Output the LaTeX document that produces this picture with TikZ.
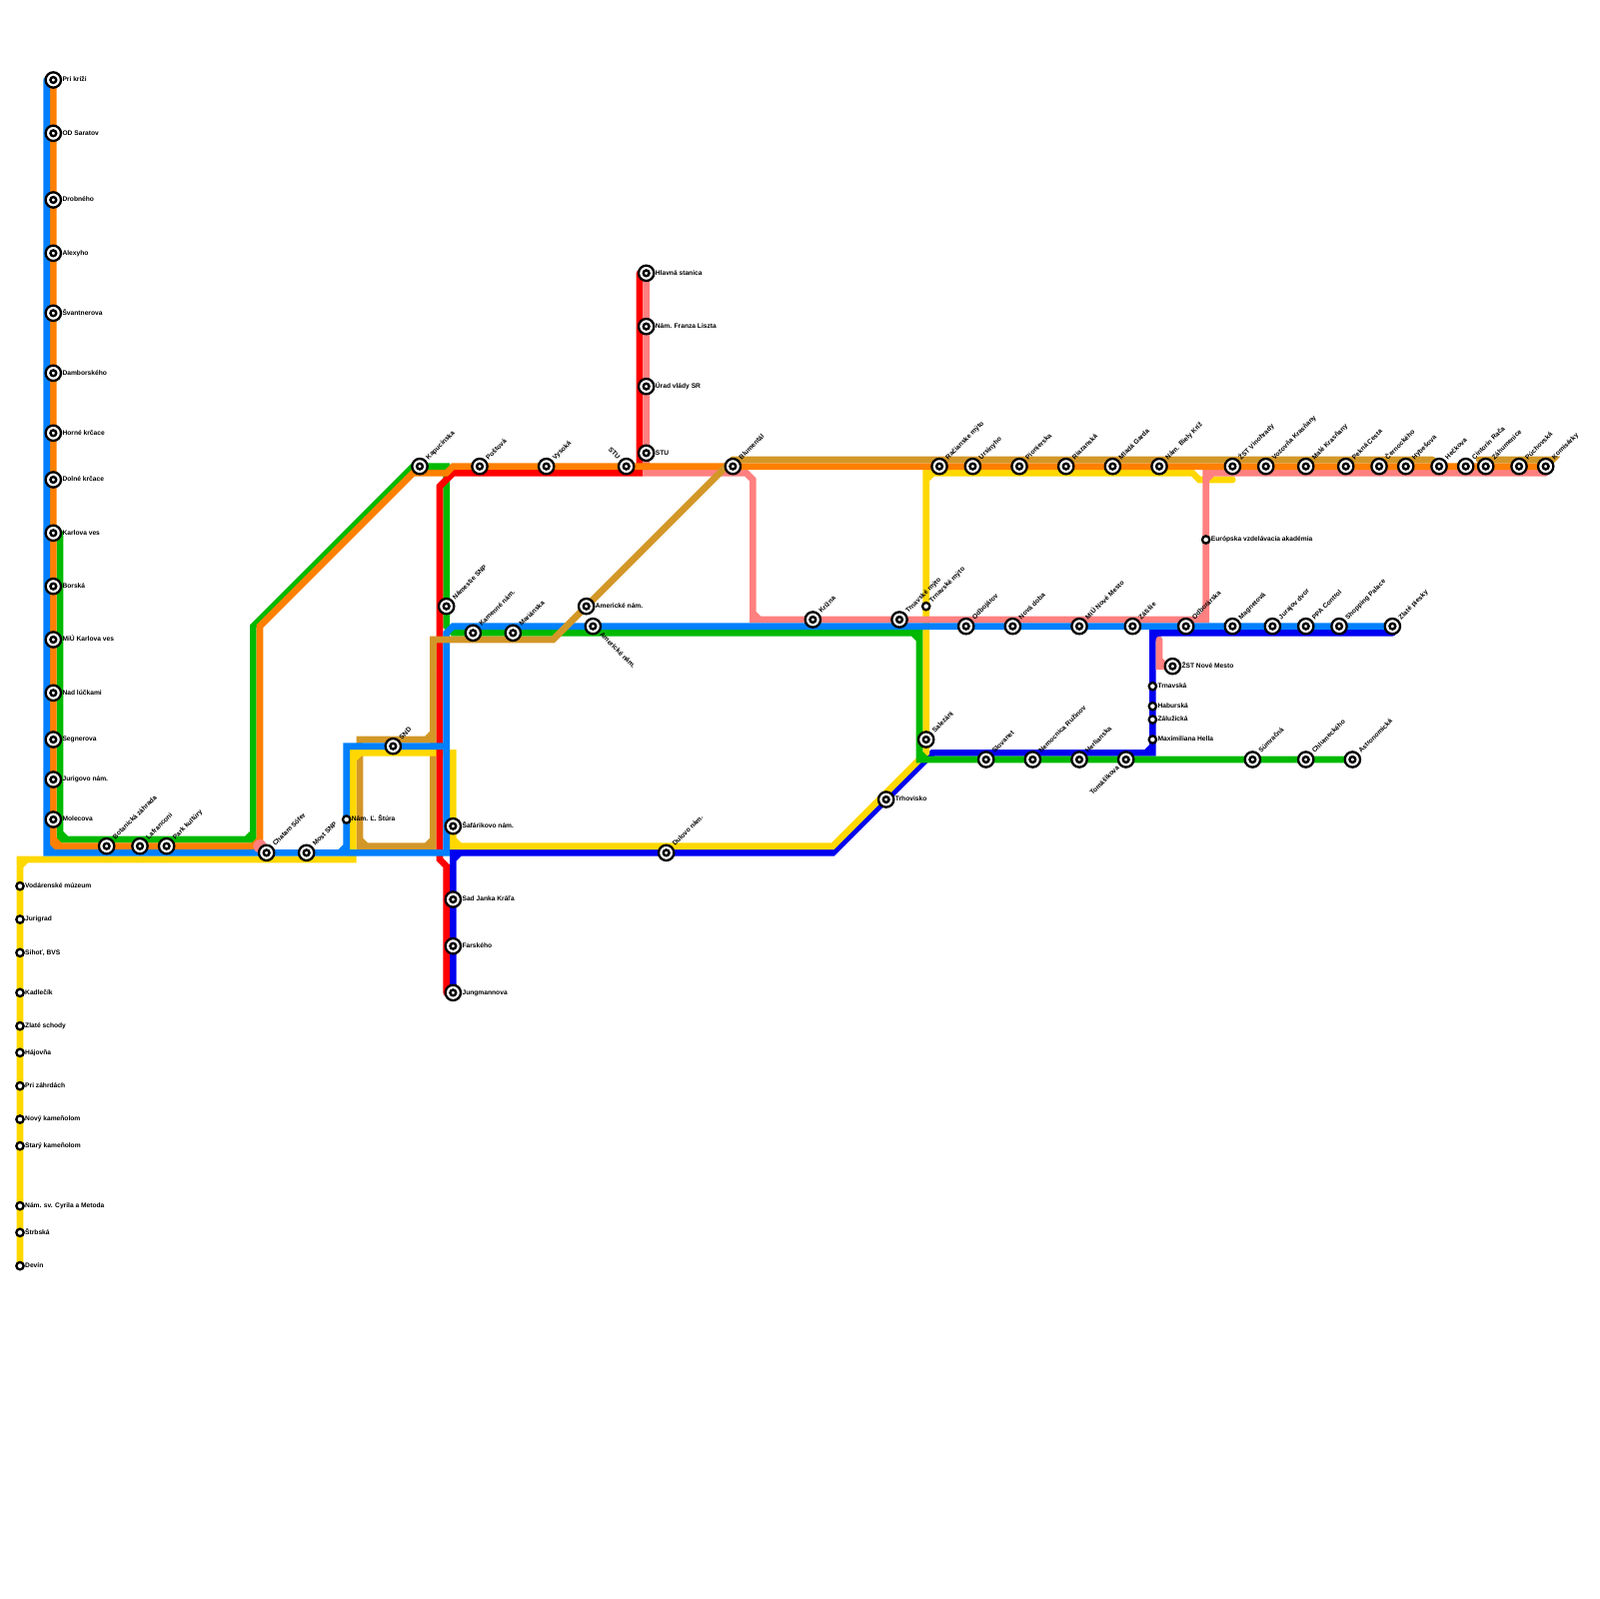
\documentclass[tikz,border=0pt]{standalone}
\usepackage{fontspec}
\setmainfont{Liberation Sans}
\definecolor{ltan}{HTML}{D39728}
\definecolor{lorange}{HTML}{FF8000}
\definecolor{lblue}{HTML}{0080FF}
\definecolor{lnavy}{HTML}{0000F0}
\definecolor{lgreen}{HTML}{00B900}
\definecolor{lred}{HTML}{FF0000}
\definecolor{lpink}{HTML}{FF8080}
\definecolor{lyellow}{HTML}{FFD800}
\tikzset{
  metro/.style={line width=3.3333pt,line cap=round,line join=miter},
  stopname/.style={font=\fontsize{3.33}{4}\selectfont\bfseries,inner sep=0pt,text height=2.4pt,text depth=.7pt},
  rt/.style={stopname,anchor=west},
  up/.style={stopname,rotate=45,anchor=west,xshift=.8pt},
  dn/.style={stopname,rotate=-45,anchor=west,xshift=.8pt},
  upback/.style={stopname,rotate=45,anchor=east,xshift=-.8pt},
  dnback/.style={stopname,rotate=-45,anchor=east,xshift=-.8pt},
  bigstop/.style={circle,draw=black,fill=white,line width=1.15pt,inner sep=0pt,minimum size=7.67pt,label distance=1.9pt,
    path picture={\draw[line width=1.2pt] (path picture bounding box.center) circle (1.45pt);}},
  smallstop/.style={circle,draw=black,fill=white,line width=1.15pt,inner sep=0pt,minimum size=3.67pt,label distance=1.2pt},
}
\begin{document}
\begin{tikzpicture}[x=3.3333pt,y=-3.3333pt]
  \useasboundingbox (0,0) rectangle (240,240);
  % tan loop round SND
  \draw[metro,ltan] (65,96) -- (65,127) -- (54,127) -- (54,111) -- (65,111)
    (64,111) -- (65,110) (54,126) -- (55,127) (64,127) -- (65,126);
  % navy
  \draw[metro,lnavy] (68,149) -- (68,128) -- (125,128) -- (140,113) -- (173,113) -- (173,95) -- (209,95)
    (68,129) -- (69,128) (172,113) -- (173,112) (173,96) -- (174,95);
  % yellow
  \draw[metro,lyellow] (3,190) -- (3,129) -- (53,129) -- (53,113) -- (68,113) -- (68,127) -- (125,127) -- (139,113) -- (139,71) -- (179,71) -- (180,72) -- (185,72)
    (3,130) -- (4,129) (53,114) -- (54,113) (68,126) -- (69,127) (139,72) -- (140,71);
  % green
  \draw[metro,lgreen] (9,80) -- (9,126) -- (38,126) -- (38,94) -- (62,70) -- (67,70) -- (67,94) -- (68,95) -- (138,95) -- (138,114) -- (203,114)
    (9,125) -- (10,126) (37,126) -- (38,125) (137,95) -- (138,96) (138,113) -- (139,114);
  % red
  \draw[metro,lred] (96,41) -- (96,71) -- (68,71) -- (66,73) -- (66,129) -- (67,130) -- (67,149);
  % pink
  \draw[metro,lpink] (97,41) -- (97,71) -- (112,71) -- (113,72) -- (113,93) -- (181,93) -- (181,71) -- (232,71)
    (113,92) -- (114,93) (180,93) -- (181,92) (181,72) -- (182,71);
  \draw[metro,lpink] (174,96) -- (174,100) -- (176,100) (174,99) -- (175,100);
  % orange
  \draw[metro,lorange] (8,12) -- (8,127) -- (39,127) -- (39,94) -- (62,71) -- (67,71) -- (68,70) -- (232,70)
    (8,126) -- (9,127) (38,127) -- (39,126);
  % blue
  \draw[metro,lblue] (7,12) -- (7,128) -- (67,128) -- (67,95) -- (68,94) -- (209,94)
    (52,128) -- (52,112) -- (67,112) (7,127) -- (8,128) (51,128) -- (52,127);
  % tan main
  \draw[metro,ltan] (65,100) -- (65,96) -- (83,96) -- (110,69) -- (215,69);
  \draw[metro,ltan] (222,69) -- (233,69) -- (232,70);
  \fill[lpink] (39,127) circle (1);
  % left column
  \node[bigstop,label={[rt]right:Pri kríži}] (prikrizi) at (8,12) {};
  \node[bigstop,label={[rt]right:OD Saratov}] (saratov) at (8,20) {};
  \node[bigstop,label={[rt]right:Drobného}] (drobneho) at (8,30) {};
  \node[bigstop,label={[rt]right:Alexyho}] (alexyho) at (8,38) {};
  \node[bigstop,label={[rt]right:Švantnerova}] (svantnerova) at (8,47) {};
  \node[bigstop,label={[rt]right:Damborského}] (damborskeho) at (8,56) {};
  \node[bigstop,label={[rt]right:Horné krčace}] (hornekrcace) at (8,65) {};
  \node[bigstop,label={[rt]right:Dolné krčace}] (dolnekrcace) at (8,72) {};
  \node[bigstop,label={[rt]right:Karlova ves}] (karlovaves) at (8,80) {};
  \node[bigstop,label={[rt]right:Borská}] (borska) at (8,88) {};
  \node[bigstop,label={[rt]right:MiÚ Karlova ves}] (miukv) at (8,96) {};
  \node[bigstop,label={[rt]right:Nad lúčkami}] (nadluckami) at (8,104) {};
  \node[bigstop,label={[rt]right:Segnerova}] (segnerova) at (8,111) {};
  \node[bigstop,label={[rt]right:Jurigovo nám.}] (jurigovo) at (8,117) {};
  \node[bigstop,label={[rt]right:Molecova}] (molecova) at (8,123) {};
  % bottom row
  \node[bigstop,label={[up]45:Botanická záhrada}] (botanicka) at (16,127) {};
  \node[bigstop,label={[up]45:Lafranconi}] (lafranconi) at (21,127) {};
  \node[bigstop,label={[up]45:Park kultúry}] (parkkultury) at (25,127) {};
  \node[bigstop,label={[up]45:Chatam Sófer}] (chatam) at (40,128) {};
  \node[bigstop,label={[up]45:Most SNP}] (mostsnp) at (46,128) {};
  % yellow south
  \node[smallstop,label={[rt]right:Vodárenské múzeum}] (vodarenske) at (3,133) {};
  \node[smallstop,label={[rt]right:Jurigrad}] (jurigrad) at (3,138) {};
  \node[smallstop,label={[rt]right:Sihoť, BVS}] (sihot) at (3,143) {};
  \node[smallstop,label={[rt]right:Kadlečík}] (kadlecik) at (3,149) {};
  \node[smallstop,label={[rt]right:Zlaté schody}] (zlateschody) at (3,154) {};
  \node[smallstop,label={[rt]right:Hájovňa}] (hajovna) at (3,158) {};
  \node[smallstop,label={[rt]right:Pri záhrdách}] (prizahradach) at (3,163) {};
  \node[smallstop,label={[rt]right:Nový kameňolom}] (novykam) at (3,168) {};
  \node[smallstop,label={[rt]right:Starý kameňolom}] (starykam) at (3,172) {};
  \node[smallstop,label={[rt]right:Nám. sv. Cyrila a Metoda}] (cyrila) at (3,181) {};
  \node[smallstop,label={[rt]right:Štrbská}] (strbska) at (3,185) {};
  \node[smallstop,label={[rt]right:Devín}] (devin) at (3,190) {};
  % centre
  \node[smallstop,label={[rt]right:Nám. Ľ. Štúra}] (stura) at (52,123) {};
  \node[bigstop,label={[up]45:SND}] (snd) at (59,112) {};
  \node[bigstop,label={[rt]right:Šafárikovo nám.}] (safarikovo) at (68,124) {};
  \node[bigstop,label={[rt]right:Sad Janka Kráľa}] (sadjk) at (68,135) {};
  \node[bigstop,label={[rt]right:Farského}] (farskeho) at (68,142) {};
  \node[bigstop,label={[rt]right:Jungmannova}] (jungmannova) at (68,149) {};
  \node[bigstop,label={[up]45:Dulovo nám.}] (dulovo) at (100,128) {};
  \node[bigstop,label={[rt]right:Trhovisko}] (trhovisko) at (133,120) {};
  \node[bigstop,label={[up]45:Námestie SNP}] (namsnp) at (67,91) {};
  \node[bigstop,label={[up]45:Kamenné nám.}] (kamenne) at (71,95) {};
  \node[bigstop,label={[up]45:Mariánska}] (marianska) at (77,95) {};
  \node[bigstop,label={[rt]right:Americké nám.}] (americke) at (88,91) {};
  \node[bigstop,label={[dn]-45:Americké nám.}] (americketwo) at (89,94) {};
  % north branch
  \node[bigstop,label={[rt]right:Hlavná stanica}] (hlavna) at (97,41) {};
  \node[bigstop,label={[rt]right:Nám. Franza Liszta}] (liszta) at (97,49) {};
  \node[bigstop,label={[rt]right:Úrad vlády SR}] (uradvlady) at (97,58) {};
  \node[bigstop,label={[rt]right:STU}] (stu) at (97,68) {};
  % row 70
  \node[bigstop,label={[up]45:Kapucínska}] (kapucinska) at (63,70) {};
  \node[bigstop,label={[up]45:Poštová}] (postova) at (72,70) {};
  \node[bigstop,label={[up]45:Vysoká}] (vysoka) at (82,70) {};
  \node[bigstop,label={[dnback]135:STU}] (stutwo) at (94,70) {};
  \node[bigstop,label={[up]45:Blumentál}] (blumental) at (110,70) {};
  \node[bigstop,label={[up]45:Račianske mýto}] (racianske) at (141,70) {};
  \node[bigstop,label={[up]45:Ursínyho}] (ursinyho) at (146,70) {};
  \node[bigstop,label={[up]45:Pionierska}] (pionierska) at (153,70) {};
  \node[bigstop,label={[up]45:Riazanská}] (riazanska) at (160,70) {};
  \node[bigstop,label={[up]45:Mladá Garda}] (mladagarda) at (167,70) {};
  \node[bigstop,label={[up]45:Nám. Biely Kríž}] (bielykriz) at (174,70) {};
  \node[bigstop,label={[up]45:ŽST Vinohrady}] (vinohrady) at (185,70) {};
  \node[bigstop,label={[up]45:Vozovňa Krasňany}] (vozovna) at (190,70) {};
  \node[bigstop,label={[up]45:Malé Krasňany}] (malekrasnany) at (196,70) {};
  \node[bigstop,label={[up]45:Pekná Cesta}] (peknacesta) at (202,70) {};
  \node[bigstop,label={[up]45:Černockého}] (cernockeho) at (207,70) {};
  \node[bigstop,label={[up]45:Hybešova}] (hybesova) at (211,70) {};
  \node[bigstop,label={[up]45:Hečkova}] (heckova) at (216,70) {};
  \node[bigstop,label={[up]45:Cintorín Rača}] (cintorin) at (220,70) {};
  \node[bigstop,label={[up]45:Záhumenice}] (zahumenice) at (223,70) {};
  \node[bigstop,label={[up]45:Púchovská}] (puchovska) at (228,70) {};
  \node[bigstop,label={[up]45:Komisárky}] (komisarky) at (232,70) {};
  \node[smallstop,label={[rt]right:Európska vzdelávacia akadémia}] (europska) at (181,81) {};
  % row 93 and 94
  \node[bigstop,label={[up]45:Krížna}] (krizna) at (122,93) {};
  \node[bigstop,label={[up]45:Trnavské mýto}] (trnavske) at (135,93) {};
  \node[smallstop,label={[up]45:Trnavské mýto}] (trnavsketwo) at (139,91) {};
  \node[bigstop,label={[up]45:Odbojárov}] (odbojarov) at (145,94) {};
  \node[bigstop,label={[up]45:Nová doba}] (novadoba) at (152,94) {};
  \node[bigstop,label={[up]45:MiÚ Nové Mesto}] (miunm) at (162,94) {};
  \node[bigstop,label={[up]45:Zátišie}] (zatisie) at (170,94) {};
  \node[bigstop,label={[up]45:Odborárska}] (odborarska) at (178,94) {};
  \node[bigstop,label={[up]45:Magnetová}] (magnetova) at (185,94) {};
  \node[bigstop,label={[up]45:Jurajov dvor}] (jurajov) at (191,94) {};
  \node[bigstop,label={[up]45:PPA Control}] (ppa) at (196,94) {};
  \node[bigstop,label={[up]45:Shopping Palace}] (shopping) at (201,94) {};
  \node[bigstop,label={[up]45:Zlaté piesky}] (zlatepiesky) at (209,94) {};
  % east side
  \node[bigstop,label={[rt]right:ŽST Nové Mesto}] (zstnm) at (176,100) {};
  \node[smallstop,label={[rt]right:Trnavská}] (trnavska) at (173,103) {};
  \node[smallstop,label={[rt]right:Haburská}] (haburska) at (173,106) {};
  \node[smallstop,label={[rt]right:Zálužická}] (zaluzicka) at (173,108) {};
  \node[smallstop,label={[rt]right:Maximiliana Hella}] (hella) at (173,111) {};
  % row 114
  \node[bigstop,label={[up]45:Salezáni}] (salezani) at (139,111) {};
  \node[bigstop,label={[up]45:Slovanet}] (slovanet) at (148,114) {};
  \node[bigstop,label={[up]45:Nemocnica Ružinov}] (ruzinov) at (155,114) {};
  \node[bigstop,label={[up]45:Herlianska}] (herlianska) at (162,114) {};
  \node[bigstop,label={[upback]225:Tomášikova}] (tomasikova) at (169,114) {};
  \node[bigstop,label={[up]45:Súmračná}] (sumracna) at (188,114) {};
  \node[bigstop,label={[up]45:Chlumeckého}] (chlumeckeho) at (196,114) {};
  \node[bigstop,label={[up]45:Astronomická}] (astronomicka) at (203,114) {};
\end{tikzpicture}
\end{document}
